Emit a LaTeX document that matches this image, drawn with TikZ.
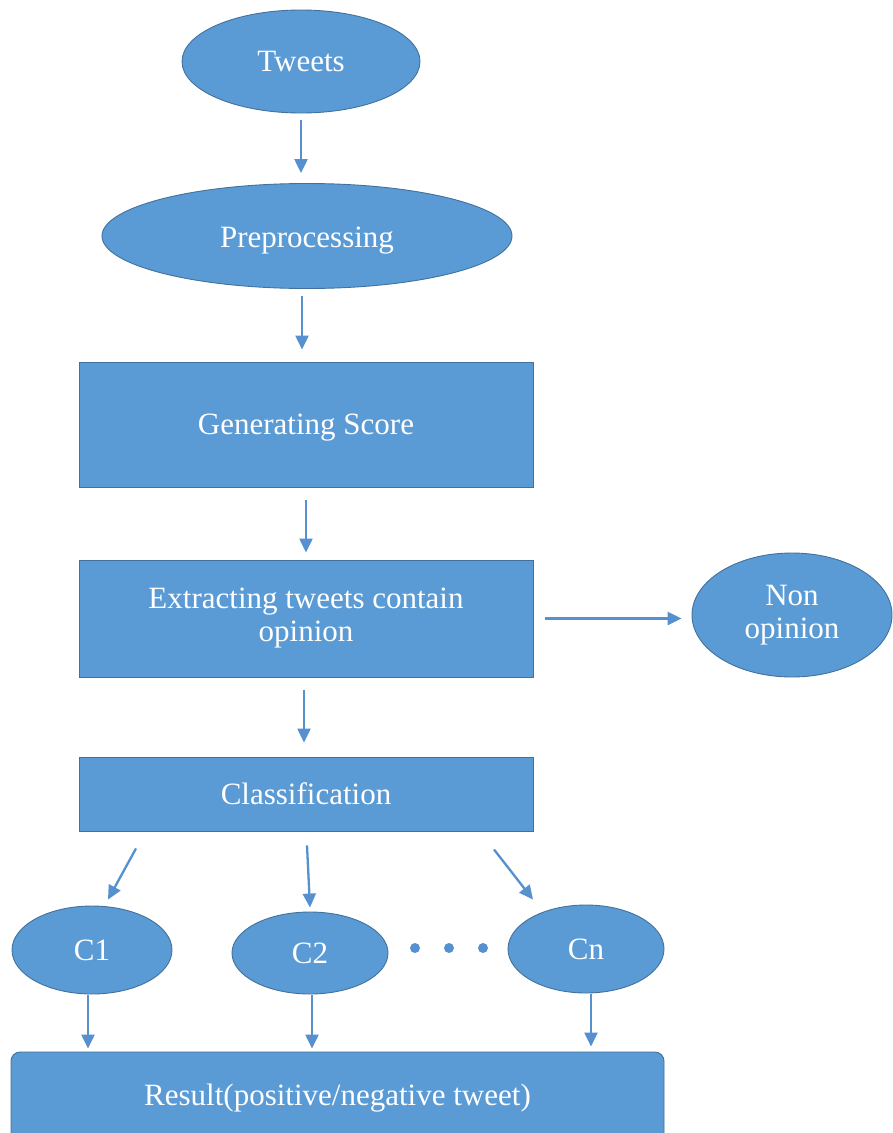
\documentclass[tikz,border=0pt]{standalone}
\usepackage{fontspec}
\setmainfont{Liberation Serif}
\usetikzlibrary{shapes.geometric,arrows.meta,calc}
\definecolor{boxblue}{HTML}{5B9BD5}
\definecolor{edgeblue}{HTML}{41719C}
\definecolor{arrblue}{HTML}{5690CF}
\tikzset{
  base/.style={fill=boxblue, draw=edgeblue, line width=0.9pt, text=white, inner sep=0pt, align=center, font=\fontsize{31}{35}\selectfont},
  ell/.style={base, ellipse},
  rectbox/.style={base, rectangle},
  arr/.style={draw=arrblue, line width=2.3pt, -{Triangle[length=14pt,width=13pt]}},
  dotnode/.style={circle, fill=arrblue, minimum size=10pt, inner sep=0pt}
}
\begin{document}
\begin{tikzpicture}[x=1pt,y=-1pt]
\useasboundingbox[fill=white] (0,0) rectangle (892,1133);

\node[ell, minimum width=238pt, minimum height=103pt] (tweets) at (301,61.5) {Tweets};
\node[ell, minimum width=410pt, minimum height=105pt] (prep) at (307,236) {\raisebox{-5pt}[\height][\depth]{Preprocessing}};
\node[rectbox, minimum width=454pt, minimum height=125pt] (gen) at (306,424.5) {\raisebox{-3pt}[\height][\depth]{Generating Score}};
\node[rectbox, minimum width=454pt, minimum height=117pt] (ext) at (306,618.5) {Extracting tweets contain\\[-2pt]opinion};
\node[ell, minimum width=200pt, minimum height=124pt] (nonop) at (792,615) {Non\\[-2pt]opinion};
\node[rectbox, minimum width=454pt, minimum height=74pt] (class) at (306,794) {Classification};
\node[ell, minimum width=160pt, minimum height=88pt] (c1) at (92,950) {C1};
\node[ell, minimum width=156pt, minimum height=82pt] (c2) at (310,953) {C2};
\node[ell, minimum width=156pt, minimum height=88pt] (cn) at (586,949) {Cn};
\node[dotnode] (d1) at (415,948) {};
\node[dotnode] (d2) at (449,948) {};
\node[dotnode] (d3) at (483,948) {};
\node[base, rectangle, rounded corners=9pt, minimum width=653pt, minimum height=92pt] (result) at (337.5,1098) {Result(positive/negative tweet)};

\draw[arr, shorten <=7pt, shorten >=10pt] (tweets.south) -- (tweets.south |- prep.north);
\draw[arr, shorten <=7pt, shorten >=12pt] ([xshift=-5pt]prep.south) -- ([xshift=-5pt]prep.south |- gen.north);
\draw[arr, shorten <=13pt, shorten >=7pt] (gen.south) -- (gen.south |- ext.north);
\draw[arr, shorten <=13pt, shorten >=14pt] ([xshift=-2pt]ext.south) -- ([xshift=-2pt]ext.south |- class.north);
\draw[arr, shorten <=12pt, shorten >=10pt] (ext.east) -- (ext.east -| nonop.west);
\draw[arr] ($(class.south)+(-170,17)$) -- ($(c1.north)+(16,-6)$);
\draw[arr] ($(class.south)+(1,14)$) -- ($(c2.north)+(0,-4)$);
\draw[arr] ($(class.south)+(188,18)$) -- ($(cn.north)+(-53,-5)$);
\draw[arr, shorten <=1pt, shorten >=3pt] ([xshift=-4pt]c1.south) -- ([xshift=-4pt]c1.south |- result.north);
\draw[arr, shorten <=1pt, shorten >=3pt] ([xshift=2pt]c2.south) -- ([xshift=2pt]c2.south |- result.north);
\draw[arr, shorten <=1pt, shorten >=5pt] ([xshift=5pt]cn.south) -- ([xshift=5pt]cn.south |- result.north);
\end{tikzpicture}
\end{document}
